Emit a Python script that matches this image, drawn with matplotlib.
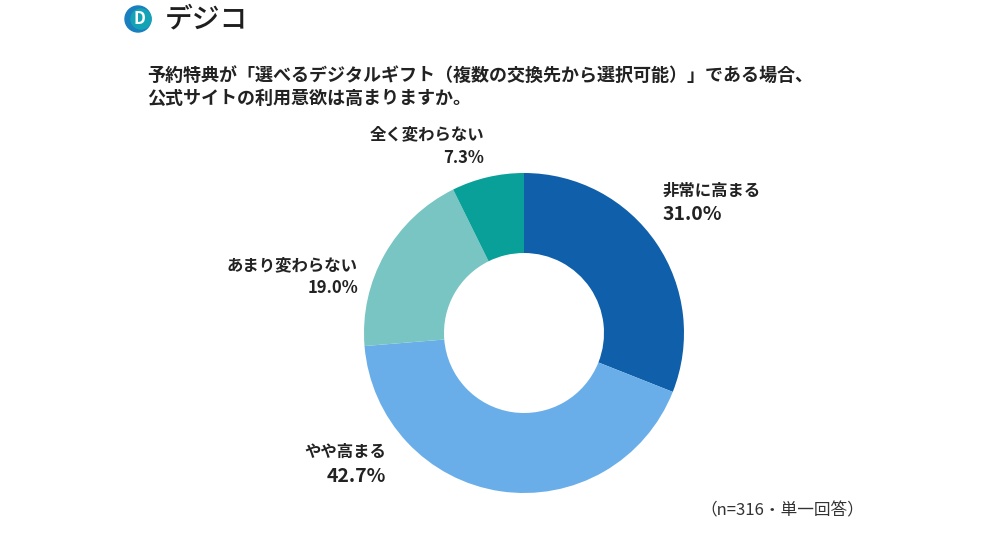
import matplotlib.pyplot as plt
from matplotlib.patches import Circle

plt.rcParams['font.family'] = ['Noto Sans CJK JP', 'DejaVu Sans']

TITLE = "予約特典が「選べるデジタルギフト（複数の交換先から選択可能）」である場合、\n公式サイトの利用意欲は高まりますか。"
CATEGORIES = ["非常に高まる", "やや高まる", "あまり変わらない", "全く変わらない"]
SHARES = [31.0, 42.7, 19.0, 7.3]
COLORS = ["#0f5fab", "#6aaee9", "#78c5c3", "#08a098"]
NOTE = "（n=316・単一回答）"

W, H = 1000, 557
fig = plt.figure(figsize=(10, 5.57), dpi=100)
fig.patch.set_facecolor("white")

cx, cy, half = 524, 333, 175
ax = fig.add_axes([(cx - half) / W, (H - cy - half) / H, 2 * half / W, 2 * half / H])
ax.set_aspect("equal")
ax.axis("off")
ax.pie(SHARES, colors=COLORS, startangle=90, counterclock=False, radius=160,
       wedgeprops=dict(width=80, edgecolor="none"))
ax.set_xlim(-half, half)
ax.set_ylim(-half, half)

def px(x, y):
    return x / W, 1 - y / H

# labels: (name, pct, x, y_name, y_pct, align, big)
labels = [
    (CATEGORIES[0], SHARES[0], 663, 191, 215, "left", True),
    (CATEGORIES[1], SHARES[1], 386, 452, 477, "right", True),
    (CATEGORIES[2], SHARES[2], 358, 265, 288, "right", False),
    (CATEGORIES[3], SHARES[3], 484, 134, 158, "right", False),
]
for name, pct, x, yn, yp, ha, big in labels:
    fig.text(*px(x, yn), name, ha=ha, va="center", fontsize=11.8,
             fontweight="bold", color="#222222")
    fig.text(*px(x, yp), f"{pct:.1f}%", ha=ha, va="center",
             fontsize=14 if big else 12, fontweight="bold", color="#222222")

fig.text(*px(147, 87), TITLE, ha="left", va="center", fontsize=13,
         fontweight="bold", color="#222222", linespacing=1.3)
fig.text(*px(864, 511), NOTE, ha="right", va="center", fontsize=12,
         color="#333333")

# logo
lax = fig.add_axes([0, 0, 1, 1])
lax.set_xlim(0, W)
lax.set_ylim(H, 0)
lax.axis("off")
lax.add_patch(Circle((138, 19), 13, color="#1a7fbf"))
lax.add_patch(Circle((141, 19), 10, color="#14a3b5"))
lax.text(139, 19.5, "D", ha="center", va="center", fontsize=12,
         fontweight="bold", color="white")
lax.text(165, 19, "デジコ", ha="left", va="center", fontsize=20,
         color="#1e1e1e", fontweight="medium")

fig.savefig("out.png", dpi=100)
